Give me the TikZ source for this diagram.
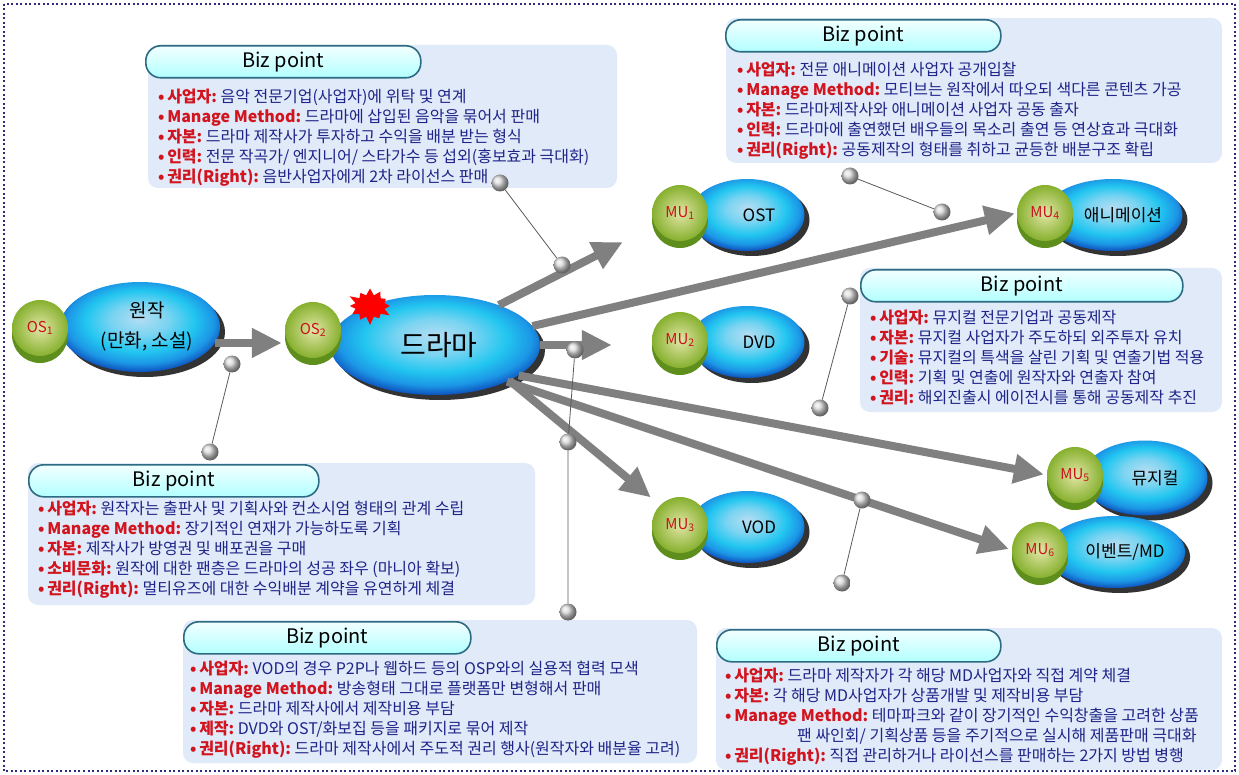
\documentclass[tikz,border=0pt]{standalone}
\usepackage{fontspec}
\setmainfont{Noto Sans CJK KR}
\usetikzlibrary{arrows.meta,shapes.geometric,shapes.symbols,shadows}
\definecolor{bizred}{HTML}{D2141E}
\definecolor{biznavy}{HTML}{1F2488}
\definecolor{bizfill}{HTML}{E0EAF8}
\definecolor{tabedge}{HTML}{2D6B82}
\definecolor{arrgray}{HTML}{808080}
\definecolor{framenavy}{HTML}{2F2A80}
\definecolor{discred}{HTML}{C8141E}
\definecolor{discin}{HTML}{E2E6A6}
\definecolor{discout}{HTML}{86B02E}
\definecolor{discside}{HTML}{5E8E1C}
\definecolor{glosslight}{HTML}{B4DDF2}
\definecolor{glosscyan}{HTML}{22C6F0}
\definecolor{glossmid}{HTML}{1C96E6}
\definecolor{glossrim}{HTML}{0E55BE}
\pgfdeclareradialshading{glossy}{\pgfpoint{0bp}{5bp}}{color(0bp)=(glosslight); color(9bp)=(glosslight!60!glosscyan); color(17bp)=(glosscyan); color(23bp)=(glossmid); color(27bp)=(glossrim); color(50bp)=(glossrim)}
\newcommand{\bz}[2]{{\color{bizred}\textbf{•\,#1:}}\ #2}

\begin{document}
\begin{tikzpicture}[x=1pt, y=-1pt,
  bizbox/.style={fill=bizfill, rounded corners=10pt},
  biztab/.style={draw=tabedge, line width=1.6pt, rounded corners=15pt, top color=cyan!5, bottom color=cyan!30!white, anchor=north west, minimum height=32pt, inner sep=0pt, font=\fontsize{20}{20}\selectfont},
  biztxt/.style={anchor=north west, align=left, inner sep=0pt, text=biznavy, font=\fontsize{16}{20}\selectfont},
  blob/.style={ellipse, inner sep=0pt, align=center, shading=glossy, drop shadow={shadow xshift=5pt, shadow yshift=-5pt, opacity=0.8, fill=black}, font=\fontsize{17}{22}\selectfont},
  disc/.style={circle, minimum size=56pt, inner sep=0pt, inner color=discin, outer color=discout, general shadow={shadow yshift=-7pt, fill=discside}, text=discred, font=\fontsize{15}{15}\selectfont},
  bigarrow/.style={draw=arrgray, line width=8pt, -{Triangle[length=30pt, width=28pt]}},
  pinball/.style={circle, minimum size=17pt, inner sep=0pt, ball color=gray!30},
  pinline/.style={draw=black!65, line width=0.8pt}]
\useasboundingbox (0,0) rectangle (1239,775);
\draw[framenavy, line width=2pt, dash pattern=on 2pt off 2.5pt] (4,4) rectangle (1235,771);

\fill[bizbox] (148,45) rectangle (617,188);
\node[biztab, minimum width=275pt] (tab1) at (145,45) {Biz point};
\node[biztxt] (txt1) at (158,89) {\bz{사업자}{음악 전문기업(사업자)에 위탁 및 연계}\\
  \bz{Manage Method}{드라마에 삽입된 음악을 묶어서 판매}\\
  \bz{자본}{드라마 제작사가 투자하고 수익을 배분 받는 형식}\\
  \bz{인력}{전문 작곡가/ 엔지니어/ 스타가수 등 섭외(홍보효과 극대화)}\\
  \bz{권리(Right)}{음반사업자에게 2차 라이선스 판매}};

\fill[bizbox] (726,18) rectangle (1222,163);
\node[biztab, minimum width=275pt] (tab2) at (725,19) {Biz point};
\node[biztxt] (txt2) at (737,62) {\bz{사업자}{전문 애니메이션 사업자 공개입찰}\\
  \bz{Manage Method}{모티브는 원작에서 따오되 색다른 콘텐츠 가공}\\
  \bz{자본}{드라마제작사와 애니메이션 사업자 공동 출자}\\
  \bz{인력}{드라마에 출연했던 배우들의 목소리 출연 등 연상효과 극대화}\\
  \bz{권리(Right)}{공동제작의 형태를 취하고 균등한 배분구조 확립}};

\fill[bizbox] (860,268) rectangle (1222,412);
\node[biztab, minimum width=322pt] (tab3) at (860,269) {Biz point};
\node[biztxt] (txt3) at (870,310) {\bz{사업자}{뮤지컬 전문기업과 공동제작}\\
  \bz{자본}{뮤지컬 사업자가 주도하되 외주투자 유치}\\
  \bz{기술}{뮤지컬의 특색을 살린 기획 및 연출기법 적용}\\
  \bz{인력}{기획 및 연출에 원작자와 연출자 참여}\\
  \bz{권리}{해외진출시 에이전시를 통해 공동제작 추진}};

\fill[bizbox] (28,463) rectangle (535,605);
\node[biztab, minimum width=290pt] (tab4) at (28,464) {Biz point};
\node[biztxt] (txt4) at (38,501) {\bz{사업자}{원작자는 출판사 및 기획사와 컨소시엄 형태의 관계 수립}\\
  \bz{Manage Method}{장기적인 연재가 가능하도록 기획}\\
  \bz{자본}{제작사가 방영권 및 배포권을 구매}\\
  \bz{소비문화}{원작에 대한 팬층은 드라마의 성공 좌우 (마니아 확보)}\\
  \bz{권리(Right)}{멀티유즈에 대한 수익배분 계약을 유연하게 체결}};

\fill[bizbox] (183,620) rectangle (697,763);
\node[biztab, minimum width=287pt] (tab5) at (183,621) {Biz point};
\node[biztxt] (txt5) at (190,661) {\bz{사업자}{VOD의 경우 P2P나 웹하드 등의 OSP와의 실용적 협력 모색}\\
  \bz{Manage Method}{방송형태 그대로 플랫폼만 변형해서 판매}\\
  \bz{자본}{드라마 제작사에서 제작비용 부담}\\
  \bz{제작}{DVD와 OST/화보집 등을 패키지로 묶어 제작}\\
  \bz{권리(Right)}{드라마 제작사에서 주도적 권리 행사(원작자와 배분율 고려)}};

\fill[bizbox] (716,628) rectangle (1222,770);
\node[biztab, minimum width=284pt] (tab6) at (716,629) {Biz point};
\node[biztxt] (txt6) at (725,668) {\bz{사업자}{드라마 제작자가 각 해당 MD사업자와 직접 계약 체결}\\
  \bz{자본}{각 해당 MD사업자가 상품개발 및 제작비용 부담}\\
  \bz{Manage Method}{테마파크와 같이 장기적인 수익창출을 고려한 상품}\\
  \hspace*{72pt}팬 싸인회/ 기획상품 등을 주기적으로 실시해 제품판매 극대화\\
  \bz{권리(Right)}{직접 관리하거나 라이선스를 판매하는 2가지 방법 병행}};

\node[blob, minimum width=160pt, minimum height=90pt, font=\fontsize{19}{30}\selectfont] (orig) at (140,327) {\hspace*{14pt}원작\\\hspace*{14pt}(만화, 소설)};
\node[disc] (os1) at (40,328) {OS\textsubscript{1}};
\node[blob, minimum width=210pt, minimum height=100pt, font=\fontsize{28}{30}\selectfont] (drama) at (435,345) {\hspace*{8pt}드라마};
\node[disc] (os2) at (313,330) {OS\textsubscript{2}};
\node[starburst, fill=red, draw=none, minimum width=48pt, minimum height=40pt, starburst points=12, starburst point height=9pt] (burst) at (370,306) {};

\node[blob, minimum width=115pt, minimum height=72pt] (ost) at (747,215) {\hspace*{24pt}OST};
\node[disc] (mu1) at (680,213) {MU\textsubscript{1}};
\node[blob, minimum width=115pt, minimum height=72pt] (dvd) at (747,342) {\hspace*{24pt}DVD};
\node[disc] (mu2) at (680,340) {MU\textsubscript{2}};
\node[blob, minimum width=115pt, minimum height=72pt] (vod) at (747,527) {\hspace*{24pt}VOD};
\node[disc] (mu3) at (680,525) {MU\textsubscript{3}};
\node[blob, minimum width=130pt, minimum height=72pt] (anim) at (1113,215) {\hspace*{20pt}애니메이션};
\node[disc] (mu4) at (1045,213) {MU\textsubscript{4}};
\node[blob, minimum width=125pt, minimum height=75pt] (musical) at (1145,478) {\hspace*{20pt}뮤지컬};
\node[disc] (mu5) at (1075,475) {MU\textsubscript{5}};
\node[blob, minimum width=140pt, minimum height=72pt] (event) at (1115,552) {\hspace*{20pt}이벤트/MD};
\node[disc] (mu6) at (1040,550) {MU\textsubscript{6}};

\draw[bigarrow, shorten >=3pt] (orig.-12) -- (orig.-12 -| os2.west);
\draw[bigarrow, shorten >=36pt] (drama.32) -- (mu1);
\draw[bigarrow, shorten >=2pt] (drama.11) -- (mu4.west);
\draw[bigarrow, shorten >=40pt] (drama.east) -- (drama.east -| mu2.west);
\draw[bigarrow, shorten >=3pt] (drama.-20) -- (mu5.west);
\draw[bigarrow, shorten >=3pt] (drama.-27) -- (mu6.west);
\draw[bigarrow, shorten >=12pt] (drama.south east) -- (mu3.north west);

\node[pinball] (p1a) at (500,183) {};
\node[pinball] (p1b) at (562,265) {};
\node[pinball] (p2a) at (850,176) {};
\node[pinball] (p2b) at (942,212) {};
\node[pinball] (p3a) at (850,296) {};
\node[pinball] (p3b) at (820,408) {};
\node[pinball] (p4a) at (210,452) {};
\node[pinball] (p4b) at (232,364) {};
\node[pinball] (p5a) at (568,612) {};
\node[pinball] (p5b) at (568,442) {};
\node[pinball] (p5c) at (575,350) {};
\node[pinball] (p6a) at (842,583) {};
\node[pinball] (p6b) at (862,500) {};
\draw[pinline] (p1a) -- (p1b);
\draw[pinline] (p2a) -- (p2b);
\draw[pinline] (p3a) -- (p3b);
\draw[pinline] (p4a) -- (p4b);
\draw[pinline] (p5a) -- (p5b) -- (p5c);
\draw[pinline] (p6a) -- (p6b);
\end{tikzpicture}
\end{document}
